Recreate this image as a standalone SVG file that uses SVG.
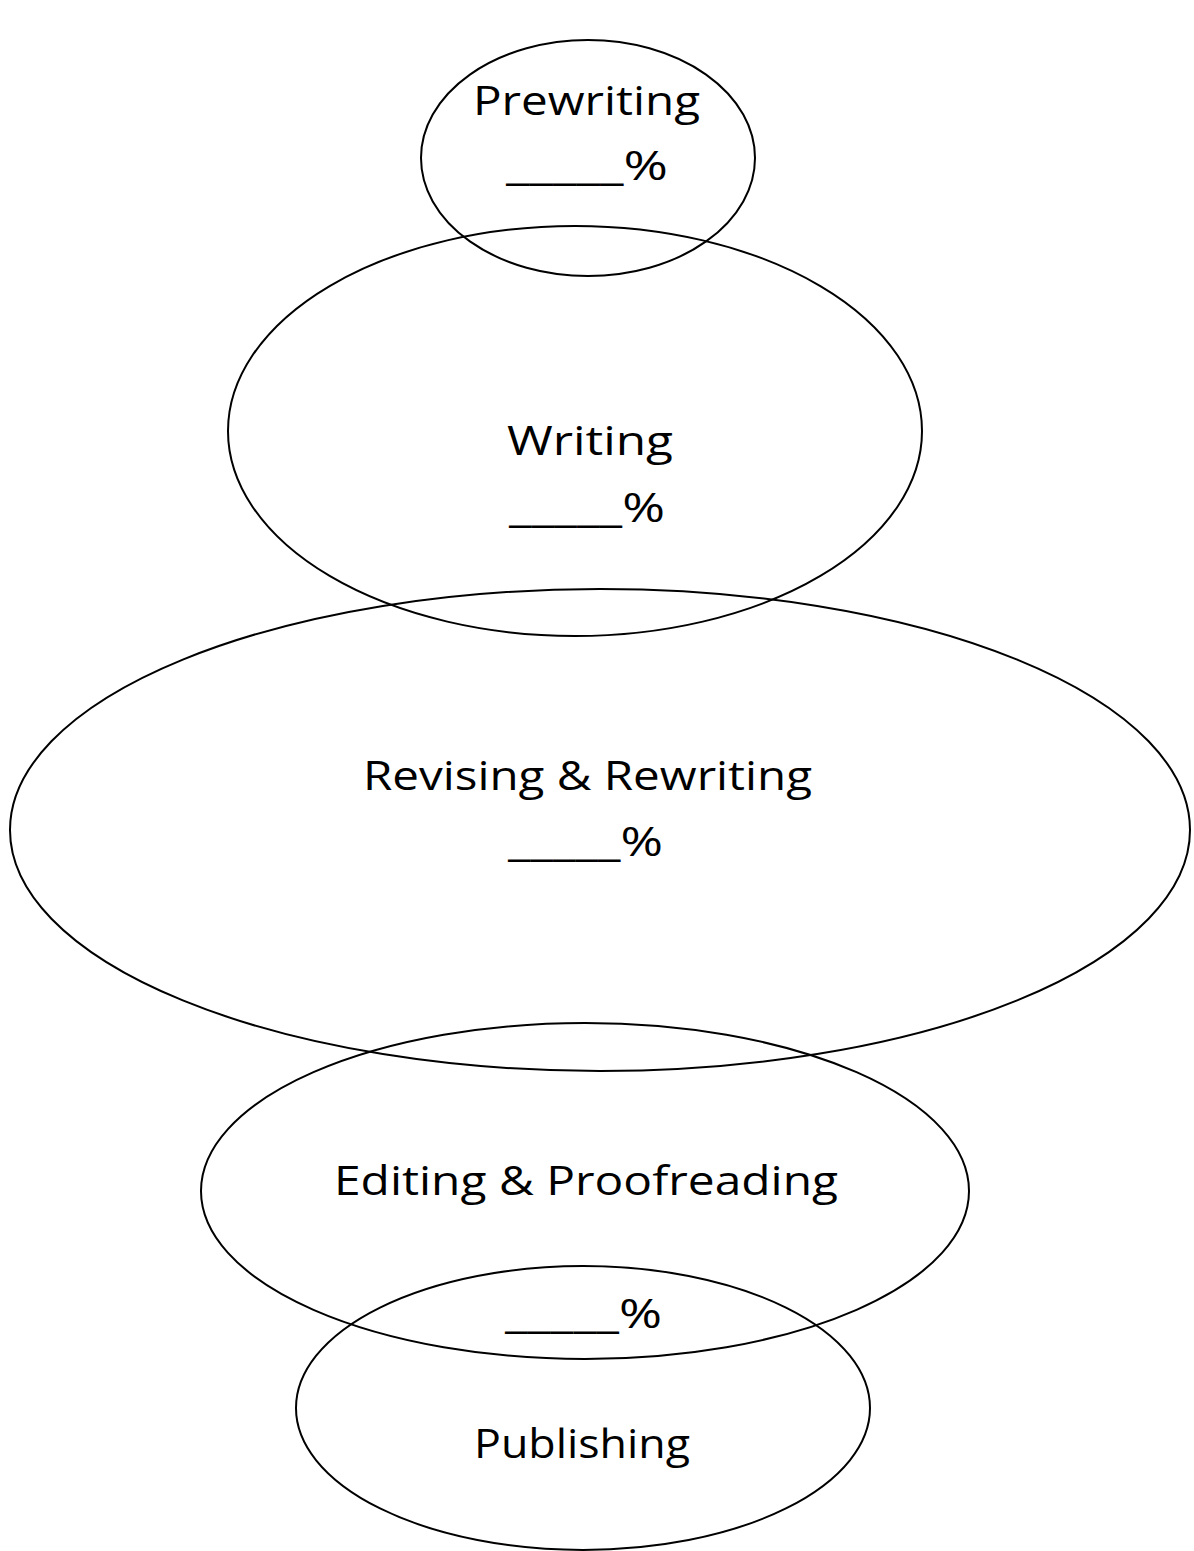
<svg xmlns="http://www.w3.org/2000/svg" width="1194" height="1551" viewBox="0 0 1194 1551">
<style>
.e{fill:none;stroke:#000;stroke-width:2}
.t{font-family:"Open Sans","Liberation Sans",sans-serif;font-size:40px;fill:#000}
</style>
<rect width="1194" height="1551" fill="#fff"/>
<g id="prewriting">
<ellipse class="e" cx="588" cy="158" rx="167" ry="118"/>
<text class="t" x="473" y="115" textLength="227" lengthAdjust="spacingAndGlyphs">Prewriting</text>
<text class="t" x="506" y="180" textLength="162" lengthAdjust="spacingAndGlyphs">_____%</text>
</g>
<g id="writing">
<ellipse class="e" cx="575" cy="431" rx="347" ry="205"/>
<text class="t" x="507" y="455" textLength="166" lengthAdjust="spacingAndGlyphs">Writing</text>
<text class="t" x="509" y="522" textLength="156" lengthAdjust="spacingAndGlyphs">_____%</text>
</g>
<g id="revising">
<ellipse class="e" cx="600" cy="830" rx="590" ry="241"/>
<text class="t" x="363" y="790" textLength="449" lengthAdjust="spacingAndGlyphs">Revising &amp; Rewriting</text>
<text class="t" x="508" y="856" textLength="155" lengthAdjust="spacingAndGlyphs">_____%</text>
</g>
<g id="editing">
<ellipse class="e" cx="585" cy="1191" rx="384" ry="168"/>
<text class="t" x="334" y="1195" textLength="504" lengthAdjust="spacingAndGlyphs">Editing &amp; Proofreading</text>
<text class="t" x="505" y="1328" textLength="157" lengthAdjust="spacingAndGlyphs">_____%</text>
</g>
<g id="publishing">
<ellipse class="e" cx="583" cy="1408" rx="287" ry="142"/>
<text class="t" x="474" y="1458" textLength="216" lengthAdjust="spacingAndGlyphs">Publishing</text>
</g>
<g id="connectors"/>
</svg>
